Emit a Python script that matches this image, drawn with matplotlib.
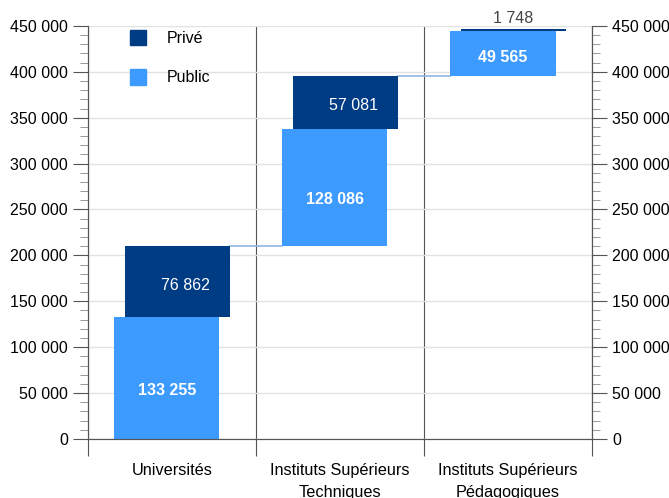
import matplotlib
matplotlib.use('Agg')

import numpy as np
import matplotlib.pyplot as plt
from matplotlib.ticker import MultipleLocator, FuncFormatter
from matplotlib.patches import Patch

# Données (effectifs par type d'établissement)
categories = ['Universités', 'Instituts Supérieurs\nTechniques', 'Instituts Supérieurs\nPédagogiques']
public = [133255, 128086, 49565]
prive = [76862, 57081, 1748]

couleur_public = '#3D9BFF'
couleur_prive = '#003C84'

plt.rcParams['font.family'] = ['Liberation Sans', 'DejaVu Sans']


def fmt(v, pos=None):
    return f'{int(v):,}'.replace(',', ' ')


# Bases cumulées (cascade)
base_public = []
base_prive = []
total = 0
for pu, pr in zip(public, prive):
    base_public.append(total)
    total += pu
    base_prive.append(total)
    total += pr

fig, ax = plt.subplots(figsize=(6.69, 4.98), dpi=100)
fig.subplots_adjust(left=0.1315, right=0.885, bottom=0.1185, top=0.948)

centres = np.arange(len(categories)) + 0.5
largeur = 0.625
dec = 0.03

ax.bar(centres - dec, public, largeur, bottom=base_public, color=couleur_public, zorder=3)
ax.bar(centres + dec, prive, largeur, bottom=base_prive, color=couleur_prive, zorder=4)

# Lignes de liaison entre les colonnes
for i in range(len(categories) - 1):
    y = base_prive[i] + prive[i]
    ax.plot([centres[i] + dec + largeur / 2, centres[i + 1] - dec - largeur / 2], [y, y],
            color='#8DB8E0', lw=1.2, zorder=2)

# Etiquettes des valeurs
for i in range(len(categories)):
    ax.text(centres[i] - dec, base_public[i] + public[i] * 0.4, fmt(public[i]),
            color='white', fontsize=11.5, fontweight='bold', ha='center', va='center', zorder=5)
    if prive[i] > 10000:
        ax.text(centres[i] + dec + 0.05, base_prive[i] + prive[i] * 0.44, fmt(prive[i]),
                color='white', fontsize=11.5, ha='center', va='center', zorder=5)
    else:
        ax.text(centres[i] + dec, base_prive[i] + prive[i] + 3000, fmt(prive[i]),
                color='#444444', fontsize=11.5, ha='center', va='bottom', zorder=5, clip_on=False)

ax.set_xlim(0, len(categories))
ax.set_ylim(0, 450000)

# Axe x : séparateurs aux limites, libellés au centre
ax.set_xticks(np.arange(len(categories) + 1))
ax.set_xticklabels([])
ax.set_xticks(centres, minor=True)
ax.set_xticklabels(categories, minor=True, fontsize=11.7, linespacing=1.65)
ax.tick_params(axis='x', which='major', length=12, color='#555555', width=0.8)
ax.tick_params(axis='x', which='minor', length=0, pad=17)
ax.xaxis.grid(True, which='major', color='#555555', lw=0.8, zorder=1)

# Axe y
ax.yaxis.set_major_locator(MultipleLocator(50000))
ax.yaxis.set_minor_locator(MultipleLocator(10000))
ax.yaxis.set_major_formatter(FuncFormatter(fmt))
ax.tick_params(axis='y', which='major', length=11, color='#555555', labelsize=11.5)
ax.tick_params(axis='y', which='minor', length=6, color='#888888')
ax.yaxis.grid(True, which='major', color='#e2e2e2', lw=1, zorder=0)
ax.set_axisbelow(True)

ax2 = ax.twinx()
ax2.set_ylim(ax.get_ylim())
ax2.yaxis.set_major_locator(MultipleLocator(50000))
ax2.yaxis.set_minor_locator(MultipleLocator(10000))
ax2.yaxis.set_major_formatter(FuncFormatter(fmt))
ax2.tick_params(axis='y', which='major', length=11, color='#555555', labelsize=11.5)
ax2.tick_params(axis='y', which='minor', length=6, color='#888888')

for a in (ax, ax2):
    a.spines['top'].set_visible(False)
    for s in ('left', 'right', 'bottom'):
        a.spines[s].set_color('#555555')
        a.spines[s].set_linewidth(0.8)

handles = [Patch(color=couleur_prive, label='Privé'), Patch(color=couleur_public, label='Public')]
ax.legend(handles=handles, loc='upper left', bbox_to_anchor=(0.055, 1.025), frameon=False,
          fontsize=11.5, handlelength=1.0, handleheight=1.1, labelspacing=1.45, handletextpad=1.3)

plt.savefig('out.png')
plt.close()
